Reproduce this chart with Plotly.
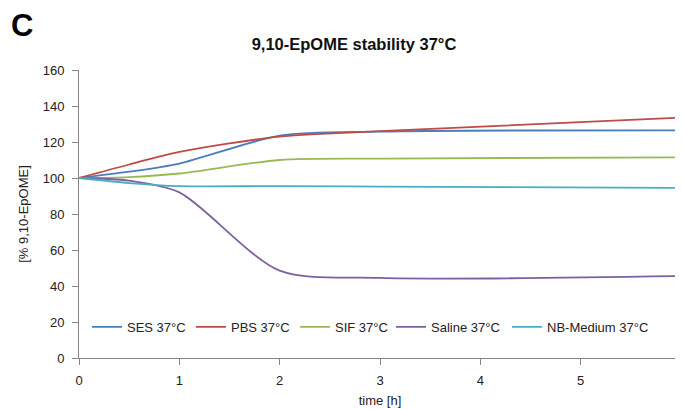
import plotly.graph_objects as go

times = [0, 0.5, 1, 2, 3, 6]
ses = [100, 103.5, 108, 123.5, 125.8, 126.5]
pbs = [100, 107.5, 114.5, 123, 126, 133.5]
sif = [100, 100.5, 102.5, 110, 110.8, 111.5]
saline = [100, 98.5, 92, 48.5, 44.5, 45.5]
nb_medium = [100, 97.2, 95.5, 95.5, 95.2, 94.5]

names = ["SES 37°C", "PBS 37°C", "SIF 37°C", "Saline 37°C", "NB-Medium 37°C"]
series = [ses, pbs, sif, saline, nb_medium]
colors = ["#4a7ebb", "#be4b48", "#98b954", "#7d60a0", "#4bacc6"]
legend_ids = ["legend", "legend2", "legend3", "legend4", "legend5"]
legend_text_x = [127, 231, 335, 431, 547]  # approximate page text start (px)

OFF = 8  # default page body margin
W, H = 683 - OFF, 409 - OFF
L, R, T, B = 79 - OFF, 2, 70 - OFF, 51
pw = W - L - R
ph = H - T - B

fig = go.Figure()
for n, s, c, lg in zip(names, series, colors, legend_ids):
    fig.add_trace(go.Scatter(x=times, y=s, name=n, mode="lines", legend=lg,
                             line=dict(color=c, width=1.8, shape="spline", smoothing=0.8)))

axis_common = dict(showline=True, linecolor="#868686", linewidth=1, ticks="outside",
                   tickcolor="#868686", ticklen=6, showgrid=False, zeroline=False,
                   automargin=False, ticklabeloverflow="allow",
                   tickfont=dict(size=13, color="#222"))

legends = {}
for lg, tx in zip(legend_ids, legend_text_x):
    legends[lg] = dict(orientation="h", x=(tx - OFF - 40 - L) / pw, y=0.108, xanchor="left",
                       yanchor="middle", font=dict(size=13, color="#222"),
                       bgcolor="rgba(0,0,0,0)", itemwidth=30)

fig.update_layout(
    width=W, height=H,
    margin=dict(l=L, r=R, t=T, b=B),
    paper_bgcolor="white", plot_bgcolor="white",
    font=dict(family="Liberation Sans, Arial, sans-serif", color="#222"),
    title=dict(text="<b>9,10-EpOME stability 37°C</b>", xref="container", x=(354 - OFF) / W,
               xanchor="center", yref="container", y=1 - (44 - OFF) / H, yanchor="middle",
               font=dict(size=16.5, color="#111")),
    xaxis=dict(range=[0, 6], tickvals=[0, 1, 2, 3, 4, 5, 6], ticklabelstandoff=4,
               title=dict(text="time [h]", font=dict(size=13), standoff=9), **axis_common),
    yaxis=dict(range=[0, 160], tickvals=[0, 20, 40, 60, 80, 100, 120, 140, 160],
               ticklabelstandoff=5,
               title=dict(text="[% 9,10-EpOME]", font=dict(size=13), standoff=11), **axis_common),
    showlegend=True,
    **legends,
)
fig.add_annotation(text="<b>C</b>", xref="paper", yref="paper",
                   x=(22 - OFF - L) / pw, y=(H - B - (25 - OFF)) / ph,
                   xanchor="center", yanchor="middle", showarrow=False,
                   font=dict(size=31, color="#000"))
fig.write_html("out.html")
